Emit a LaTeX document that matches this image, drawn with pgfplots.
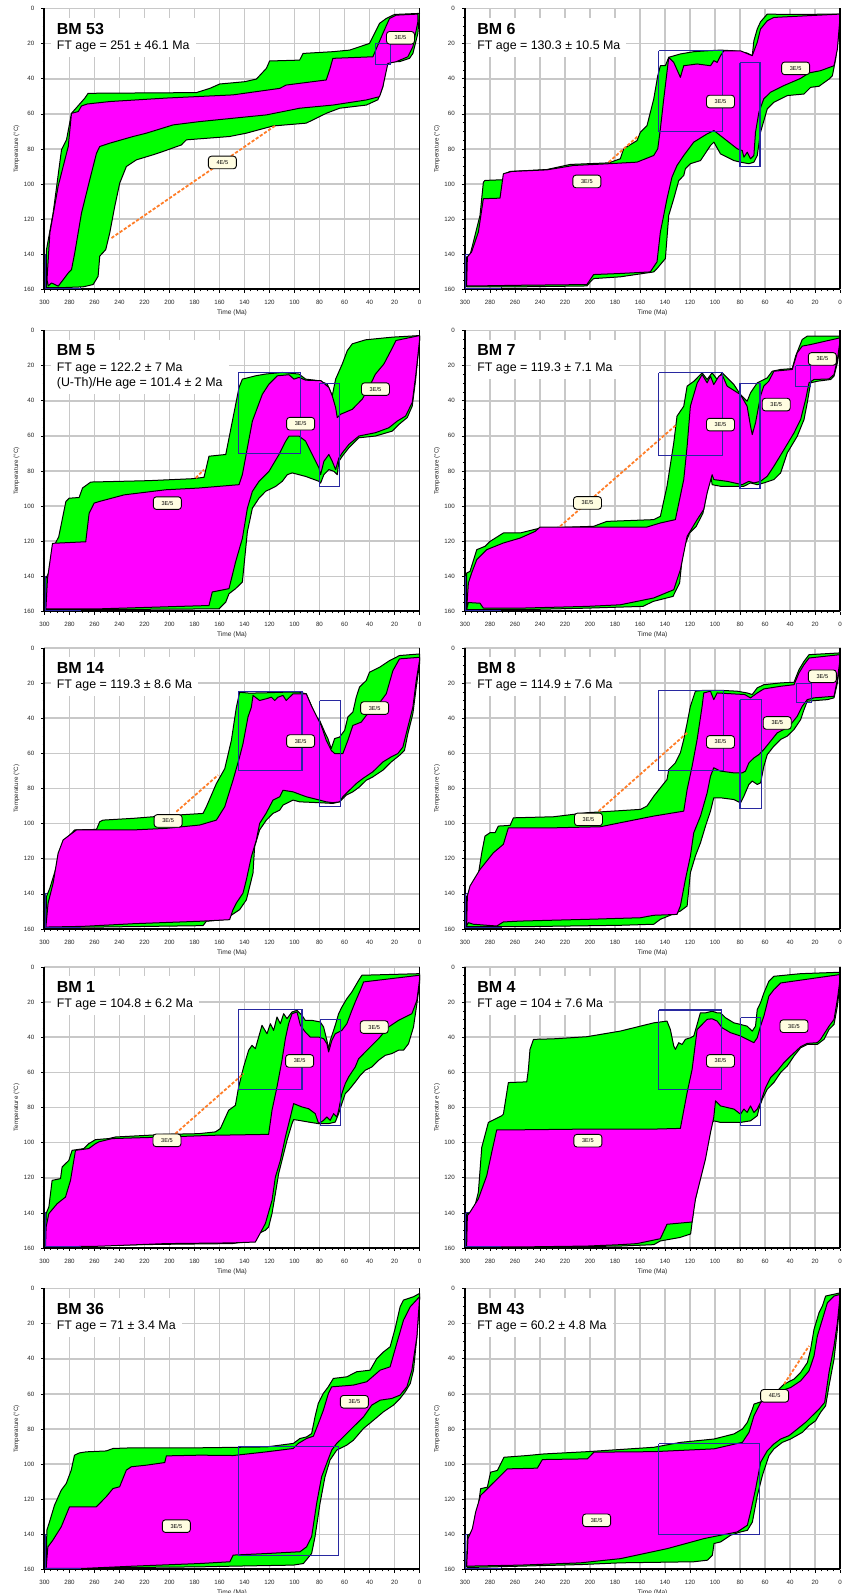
\documentclass[border=0pt]{standalone}
\usepackage{fontspec}
\setmainfont{Liberation Sans}
\usepackage{pgfplots}
\pgfplotsset{compat=1.18}

\definecolor{envgreen}{RGB}{0,255,0}
\definecolor{envmag}{RGB}{255,0,255}
\definecolor{boxblue}{RGB}{40,40,160}
\definecolor{pathorange}{RGB}{255,125,40}
\definecolor{gridgray}{RGB}{200,200,200}
\definecolor{tagfill}{RGB}{255,253,225}

\pgfplotsset{
  tt/.style={
    scale only axis, width=187.5pt, height=140.5pt, anchor=north west,
    xmin=0, xmax=300, ymin=0, ymax=160, x dir=reverse, y dir=reverse,
    xtick={0,20,...,300}, ytick={0,20,...,160},
    minor x tick num=3, minor y tick num=3,
    xtick pos=left, ytick pos=left,
    grid=major, major grid style={draw=gridgray, line width=0.8pt},
    axis line style={draw=gridgray, line width=0.7pt},
    tick align=outside, major tick length=1.6pt, minor tick length=0.9pt,
    every tick/.style={black, line width=0.3pt},
    ticklabel style={font=\fontsize{3.1}{3.5}\selectfont, text=black!85},
    xticklabel style={yshift=-0.4pt},
    /pgf/number format/assume math mode=true,
    /pgf/number format/1000 sep={},
    clip=false,
  },
  gr/.style={fill=envgreen, draw=black, line width=0.5pt, line join=round},
  mg/.style={fill=envmag, draw=black, line width=0.5pt, line join=round},
  bx/.style={draw=boxblue, line width=0.55pt},
  orl/.style={draw=pathorange, line width=0.9pt, dash pattern=on 1.6pt off 0.9pt},
}
\tikzset{lbl/.style={draw=black, line width=0.45pt, fill=tagfill, rounded corners=1.5pt,
  minimum width=14pt, minimum height=6.3pt, inner sep=0.4pt, font=\fontsize{2.8}{3.2}\selectfont}}

% black frame on the left, bottom and right sides of each panel
\newcommand{\frameit}{%
  \draw[black, line width=1pt] (axis cs:300,0) -- (axis cs:300,160) -- (axis cs:0,160);
  \draw[black, line width=0.7pt] (axis cs:0,160) -- (axis cs:0,0);}
% constraint box at the start of the model run (drawn under the envelopes)
\newcommand{\startbox}{\addplot[bx] coordinates {(300,140)(271,140)(271,160)(300,160)(300,140)};}
% its edges along the axes, visible just inside the frame
\newcommand{\startedge}{\addplot[bx] coordinates {(299.4,140)(299.4,159.4)(271,159.4)};}
% sample name, ages and axis titles of one panel (#1 left edge, #2 top edge)
\newcommand{\annot}[3]{%
  \node[anchor=north west, fill=white, inner xsep=3pt, inner ysep=2.5pt, align=left,
        font=\fontsize{6.2}{7.6}\selectfont] at ({#1+3pt},{#2-4.5pt}) {#3};
  \node[rotate=90, font=\fontsize{3.1}{3.5}\selectfont, text=black!85] at ({#1-14pt},{#2-70.25pt}) {Temperature (°C)};
  \node[font=\fontsize{3.3}{3.8}\selectfont, text=black!85] at ({#1+93.75pt},{#2-152.3pt}) {Time (Ma)};}
\newcommand{\bm}[1]{{\fontsize{8}{7.6}\selectfont\bfseries #1}}

\begin{document}
\begin{tikzpicture}
\path[use as bounding box] (0,0) rectangle (422.5pt,796.5pt);

%---------------- BM 53
\begin{axis}[tt, at={(22.25pt,792.25pt)}]
\startbox
\addplot[gr] coordinates {(298.4,158)(298.4,137.3)(293.1,116.5)(286.4,80.5)(282.4,74.8)(278.4,59.7)(267.8,51.1)(265.1,48.3)(178.5,47.9)(167.8,45.5)(159.8,43)(139.9,41.7)(130.5,40.2)(122.5,34.1)(119.9,29.9)(95.9,29.4)(93.2,25.6)(69.3,24.6)(55.9,23.7)(40,19.9)(32,8.5)(26.6,5.7)(20,3.4)(0,2.8)
(1.3,14.2)(5.3,25.6)(8,28.4)(16,30.3)(26.6,30.3)(29.3,44.5)(33.3,52)(42.6,55)(63.9,56.8)(74.6,59.7)(90.6,65.3)(117.2,66.9)(138.5,71)(151.9,72.9)(186.5,74.8)(190.5,77.7)(205.1,81.4)(213.1,83.3)(226.5,86.2)(234.5,90)(239.8,99.4)(243.8,112.7)(247.8,127.8)(251,137.3)(255.8,141)(257.1,152.5)(261.1,157.2)(269.1,158.5)(287.7,159)(298.4,159)(298.4,158)};
\addplot[mg] coordinates {(298,154.4)(295.7,127.8)(289,101)(281,78.6)(278.4,59.7)(273,58.7)(270.4,55.5)(265.9,54.4)(247.8,53)(202.5,51)(149.2,49.2)(111.9,45.5)(106.6,43.6)(74.6,40.7)(71.9,35)(69.3,28.4)(37.3,27.5)(29.3,14.2)(24,5.7)(18.6,3.8)(1.3,3.2)
(1.3,7.6)(5.3,21.8)(9.3,27.5)(18.6,30.3)(25.3,31.3)(29.3,44.5)(32,50.2)(42.6,52.1)(69.3,55)(95.9,56.8)(122.5,60.6)(149.2,62.5)(175.8,64.4)(197.1,66.3)(218.5,71)(229.1,72.9)(247.8,76.7)(255.8,78.6)(258.4,82.4)(263.8,97.5)(270.4,116.5)(275.8,139.2)(278.4,148.7)(281,150.6)(285,154.4)(289,158.1)(294.4,156.3)(297,158)(298,154.4)};
\addplot[orl] coordinates {(246.4,130.7)(114.5,66.3)};
\addplot[bx] coordinates {(35.4,20)(23.4,20)(23.4,31.8)(35.4,31.8)(35.4,20)};
\frameit
\startedge
\node[lbl] at (axis cs:157.7,87.7) {4E/5};
\node[lbl] at (axis cs:15.2,16.7) {3E/5};
\end{axis}
\annot{22.25pt}{792.25pt}{\bm{BM 53}\\FT age = 251 ± 46.1 Ma}

%---------------- BM 6
\begin{axis}[tt, at={(232.5pt,792.25pt)}]
\startbox
\addplot[gr] coordinates {(298.7,157.6)(298.7,141.5)(296,140.5)(292,129.2)(288,117.8)(285.3,98.9)(284,97.9)(269.3,97.5)(268,94.1)(263.9,92.8)(234.5,91.7)(215.8,88.8)(185,87.9)(175.8,85.6)(173.1,79.9)(162.4,75.2)(159.7,70.5)(154.4,66.7)(149,51.5)(145.8,38.3)(143.7,32.6)(139.7,32.6)(137,27.8)(127.7,25.9)(117,24.6)(106.3,24.1)(95.6,23.7)(84.9,24.1)(74.2,25.4)(70.2,26.9)(68.9,18.4)(66.2,11.7)(63.6,7.6)(58.2,3.2)(42.2,3.4)(0,3.2)
(0,8)(3.5,28.8)(6.1,38.3)(8.8,40.2)(16.8,44.3)(23.5,44.9)(28.8,48.7)(42.2,49.6)(52.9,53.4)(58.2,57.2)(63.6,70.5)(66.2,83.7)(68.9,87.5)(72.9,88.4)(79.6,87.5)(84.9,86.6)(95.6,82.8)(100.9,76.1)(103.6,78)(111.6,86.6)(119.7,88.4)(123.7,91.3)(125,95.1)(129,98)(133,108.3)(137,117.8)(139.7,142.4)(146.4,148.1)(149,150)(175.8,152.8)(197.1,153.8)(199.8,155.7)(202.5,158)(255.9,158.5)(282.6,158.5)(298.7,158.5)(298.7,157.6)};
\addplot[mg] coordinates {(298.7,157.6)(298.1,141.5)(294.7,138.6)(289.3,127.3)(285.3,108.3)(272,108)(269.3,94.1)(262.6,92.8)(234.5,91.9)(213.2,89.4)(185,88.4)(162.4,87.5)(149,83.7)(145.8,79.9)(143.7,68.6)(141,51.5)(137,27.8)(133,30.7)(127.7,39.2)(125,32.6)(114.3,31.6)(103.6,32.6)(100.9,29.7)(98.3,30.7)(95.6,26.9)(92.9,24.1)(79.6,24.1)(70.2,26.9)(66.2,19.3)(63.6,11.7)(58.2,7)(52.9,5.1)(0,3.2)
(0,5.1)(2.1,23.1)(4.8,32.6)(15.5,35.4)(24.8,36.7)(31.5,39.8)(44.9,43.9)(55.6,47.7)(61,51.5)(64.9,59.1)(67.6,70.5)(68.9,83.7)(71.6,85.6)(74.2,81.8)(76.9,84.7)(78.2,80.9)(82.2,79.9)(100.9,69.5)(106.3,71.4)(117,76.1)(125,83.7)(130.4,89.4)(134.4,96)(138.4,108.3)(143.7,127.3)(146.4,144.3)(151.8,150)(175.8,150.9)(197.1,151.5)(202.5,157.2)(255.9,157.6)(293.3,158)(298.7,158)(298.7,157.6)};
\addplot[orl] coordinates {(185,87.5)(161,72.3)};
\addplot[bx] coordinates {(145,24)(94,24)(94,70)(145,70)(145,24)};
\addplot[bx] coordinates {(80,31)(64,31)(64,90)(80,90)(80,31)};
\frameit
\startedge
\node[lbl] at (axis cs:202.5,98.5) {3E/5};
\node[lbl] at (axis cs:95.6,53) {3E/5};
\node[lbl] at (axis cs:35.5,34.1) {3E/5};
\end{axis}
\annot{232.5pt}{792.25pt}{\bm{BM 6}\\FT age = 130.3 ± 10.5 Ma}

%---------------- BM 5
\begin{axis}[tt, at={(22.25pt,631.25pt)}]
\startbox
\addplot[gr] coordinates {(298.9,158.5)(298.9,141.3)(296.3,137.5)(291.3,121.2)(288.6,117.4)(282.9,97.4)(280.3,95.5)(272.3,95.1)(269.6,89.7)(263,86.3)(216.3,85.5)(181.7,84.4)(172.4,83.6)(168.4,71.6)(155,70.6)(149.7,51.6)(144.4,32.5)(141.7,27.7)(131.1,25.8)(123.1,24.8)(109.8,23.9)(96.4,24.8)(91.1,27.7)(80.4,28.6)(73.8,30.5)(69.8,37.2)(67.1,27.7)(61.8,19.1)(57.8,11.5)(53.8,7.6)(43.1,5.3)(21.8,3.8)(0,2.9)
(0,5.7)(3.2,28.6)(5.8,43)(9.8,49.6)(16.5,53.5)(21.8,57.3)(35.2,60.1)(48.5,61.1)(56.5,66.8)(61.8,71.6)(64.5,74.5)(65.8,82.1)(68.5,80.2)(72.5,79.2)(76.5,82.1)(79.1,86.9)(80.4,85.9)(91.1,83.1)(101.8,81.1)(105.8,82.1)(109.8,85.9)(115.1,88.8)(123.1,91.6)(128.4,95.5)(133.7,101.2)(137.7,114.6)(141.7,143.2)(147.1,147)(152.4,149.9)(155,154.7)(160.4,158.5)(256.3,158.9)(298.9,158.9)(298.9,158.5)};
\addplot[mg] coordinates {(298.9,158.5)(297.6,141.3)(293.6,121.2)(267,120.3)(264.3,104.1)(260.3,98.3)(256.3,97.4)(236.3,93.6)(203,90.7)(176.4,89.7)(144.4,87.8)(141.7,82.1)(133.7,51.6)(125.7,36.3)(120.4,30.5)(113.7,25.8)(104.4,25.2)(100.4,27.7)(96.4,26.7)(91.1,28.3)(78.8,28.6)(72.5,32.5)(69.8,37.2)(67.1,43.9)(65.8,49.6)(63.1,47.7)(53.8,44.9)(45.8,39.1)(40.5,32.5)(35.2,24.8)(28.5,19.1)(22.9,11.5)(18.8,5.7)(0,2.9)
(0,5.7)(3.2,26.7)(5.8,41)(11.1,48.7)(17.8,51.6)(24.5,55.4)(35.2,58.2)(48.5,60.1)(56.5,64.9)(61.8,69.7)(64.5,72.6)(67.1,79.2)(69.8,74.5)(72.5,70.6)(76.5,74.5)(79.1,82.1)(80.4,78.3)(85.8,70.6)(91.1,63)(96.4,60.1)(104.4,60.1)(107,63)(112.4,70.6)(120.4,80.2)(128.4,85.9)(133.7,91.6)(137.7,101.2)(141.7,118.4)(147.1,131.7)(152.4,147)(165.8,148.9)(168.4,156.6)(256.3,158.5)(298.9,158.5)};
\addplot[orl] coordinates {(179,84)(172.4,79.2)};
\addplot[bx] coordinates {(145,24)(95,24)(95,70)(145,70)(145,24)};
\addplot[bx] coordinates {(80,30)(64,30)(64,89)(80,89)(80,30)};
\frameit
\startedge
\node[lbl] at (axis cs:201.7,98.3) {3E/5};
\node[lbl] at (axis cs:95.1,53.1) {3E/5};
\node[lbl] at (axis cs:35.2,33.4) {3E/5};
\end{axis}
\annot{22.25pt}{631.25pt}{\bm{BM 5}\\FT age = 122.2 ± 7 Ma\\(U-Th)/He age = 101.4 ± 2 Ma}

%---------------- BM 7
\begin{axis}[tt, at={(232.5pt,631.25pt)}]
\startbox
\addplot[gr] coordinates {(298.7,159)(298.7,138.1)(296,137.2)(290.6,124.8)(284,122.9)(280,120.1)(269.3,115.3)(255.9,115.3)(239.9,112.5)(197.1,111.5)(186.5,108.7)(149,107.7)(143.7,105.8)(138.4,88.7)(133,64)(130.4,48.8)(125,43.1)(122.3,31.7)(116.9,28.9)(110.3,24.1)(106.3,27.9)(102.3,24.1)(98.3,27.9)(94.3,24.1)(91.6,26)(84.9,30.8)(79.6,36.5)(74.3,40.3)(71.6,35.5)(66.2,29.8)(63.6,28.9)(58.2,27)(54.2,23.2)(47.5,22.2)(38.2,21.7)(35.5,14.6)(32.9,9.9)(30.2,5.1)(26.2,3.2)(0,3.2)
(0,8.9)(2.1,18.4)(4.8,26)(7.4,27.9)(18.1,28.9)(23.5,29.8)(26.2,41.2)(28.8,50.7)(34.2,60.2)(42.2,69.7)(47.5,81.1)(52.9,84.9)(60.9,86.8)(66.2,87.8)(71.6,86.8)(76.9,88.7)(79.6,88.7)(95.6,88.7)(102.3,87.8)(103.6,81.1)(109.6,103.9)(115,111.5)(120.3,115.3)(125.6,124.8)(128.3,143.8)(133.6,151.4)(149.6,154.3)(157.6,157.1)(202.5,158.1)(255.9,159)(298.7,159)};
\addplot[mg] coordinates {(298.7,159)(297.3,143.8)(294.7,138.1)(290.6,130.5)(282.6,124.8)(269.3,121)(255.9,118.2)(243.9,114.4)(239.9,111.9)(197.1,111.9)(154.4,111.9)(143.7,109.6)(131.7,107.7)(125,84.9)(122.3,65.9)(119.7,43.1)(114.3,30)(110.3,25.1)(106.3,29.8)(103.6,26)(101,30.8)(96.9,26)(94.3,25.1)(90.3,31.7)(79.6,36.5)(74.3,43.1)(71.6,54.5)(70.2,59.3)(67.6,52.6)(63.6,37.4)(61,31.7)(57,28.9)(52.9,23.2)(38.2,22.2)(34.2,12.7)(30.2,8.9)(23.5,8)(0,4.2)
(0,6.1)(2.1,16.5)(4.8,25.1)(8.8,27.6)(20.8,27.9)(24.8,29.8)(27.5,39.3)(31.5,50.7)(36.8,58.3)(44.8,67.8)(52.9,77.3)(58.2,83)(63.6,85.9)(68.9,86.8)(72.9,85.9)(78.2,87.8)(90.3,85.9)(100.9,84.9)(102.3,82.1)(106.3,92.5)(109,101.9)(114.3,107.7)(122.3,117.2)(127.7,136.2)(133,147.6)(149,152.3)(175.8,156.2)(202.5,157.1)(255.9,158.1)(285.3,158.1)(288,155.3)(297.3,154.9)(298.7,159)};
\addplot[orl] coordinates {(223.9,111.5)(131.7,54.2)};
\addplot[bx] coordinates {(145,24)(94,24)(94,71)(145,71)(145,24)};
\addplot[bx] coordinates {(80,30)(64,30)(64,90)(80,90)(80,30)};
\addplot[bx] coordinates {(35.5,20)(23.5,20)(23.5,32)(35.5,32)(35.5,20)};
\frameit
\startedge
\node[lbl] at (axis cs:202,98.2) {3E/5};
\node[lbl] at (axis cs:95.6,53.6) {3E/5};
\node[lbl] at (axis cs:51,42.2) {3E/5};
\node[lbl] at (axis cs:14.1,16.2) {3E/5};
\end{axis}
\annot{232.5pt}{631.25pt}{\bm{BM 7}\\FT age = 119.3 ± 7.1 Ma}

%---------------- BM 14
\begin{axis}[tt, at={(22.25pt,472.5pt)}]
\startbox
\addplot[gr] coordinates {(298.9,158.9)(298.4,141.5)(295.7,136.7)(290.4,124.4)(286.4,116.9)(283.7,109.3)(275.8,103.6)(258.4,103.3)(255.8,98.9)(253.1,98)(229.1,97)(202.5,95.5)(173.2,94.2)(170.5,90.4)(162.5,77.2)(155.8,68.7)(150.5,52.6)(146.5,33.7)(143.9,25.2)(135.9,25.7)(122.5,25.5)(109.2,25.2)(95.9,25.2)(90.6,26.1)(86.6,32.7)(82.6,39.3)(79.9,41.2)(75.9,47.8)(73.3,51.6)(70.6,57.3)(67.9,51.6)(63.9,50.7)(59.9,46.9)(57.3,39.3)(53.3,36.5)(50.6,28)(48,22.3)(42.6,18.5)(40,13.8)(32,11)(24,7.2)(16,4.3)(0,3.4)
(0,9.1)(2.6,22.3)(5.3,37.4)(9.3,48.8)(12,58.3)(16,61.1)(22.6,64.9)(29.3,69.6)(37.3,73.4)(42.6,75.3)(48,79.1)(53.3,81.9)(58.6,83.8)(63.9,87.6)(69.3,88.5)(79.9,88.1)(95.9,87.6)(101.2,86.6)(109.2,89.5)(111.8,92.3)(117.2,94.2)(122.5,98)(127.9,103.6)(131.9,113.1)(133.2,128.2)(138.5,143.4)(143.9,149)(151.9,152.8)(157.2,154.7)(170.5,155.6)(173.2,158.1)(255.8,158.9)(298.9,158.9)};
\addplot[mg] coordinates {(298.9,158.9)(297.1,145.2)(293.1,133.9)(289.1,116.9)(285.1,109.3)(274.4,103.6)(229.1,103.6)(202.5,102.7)(175.8,100.8)(162.5,98)(155.8,90.4)(149.2,75.3)(143.9,62)(141.2,54.5)(137.2,39.3)(134.5,33.7)(133.2,27)(127.9,29.9)(122.5,28.9)(118.5,28)(115.8,29.9)(113.2,28)(109.2,27)(106.6,29.9)(101.2,26.1)(90.6,26.1)(86.6,32.7)(81.3,40.3)(78.6,44.1)(74.6,52.6)(70.6,58.3)(67.9,60.1)(61.3,60.1)(57.3,52.6)(53.3,44.1)(46.6,42.2)(42.6,38.4)(34.6,33.7)(26.6,26.1)(21.3,12.9)(16,6.2)(0,5.3)
(0,7.2)(2.6,18.5)(5.3,33.7)(9.3,45)(13.3,56.4)(17.3,60.1)(22.6,62)(29.3,64.9)(37.3,70.5)(45.3,74.3)(50.6,77.2)(55.9,80.9)(61.3,84.7)(63.9,87.6)(69.3,88.1)(74.6,87.6)(79.9,86.6)(90.6,84.7)(101.2,81.9)(109.2,81)(111.8,84.7)(117.2,86.6)(122.8,94.2)(127.9,99.9)(130.5,109.3)(134.5,118.8)(138.5,132)(141.2,139.6)(146.5,145.2)(149.2,149)(151.9,154.7)(175.8,155.6)(229.1,157)(269.1,158.5)(298.9,158.9)};
\addplot[orl] coordinates {(194.5,93.2)(161.2,72.4)};
\addplot[bx] coordinates {(145,25)(94,25)(94,70)(145,70)(145,25)};
\addplot[bx] coordinates {(80,30)(63.5,30)(63.5,90)(80,90)(80,30)};
\frameit
\startedge
\node[lbl] at (axis cs:201.1,98.5) {3E/5};
\node[lbl] at (axis cs:95.1,53) {3E/5};
\node[lbl] at (axis cs:35.9,34.2) {3E/5};
\end{axis}
\annot{22.25pt}{472.5pt}{\bm{BM 14}\\FT age = 119.3 ± 8.6 Ma}

%---------------- BM 8
\begin{axis}[tt, at={(232.5pt,472.5pt)}]
\startbox
\addplot[gr] coordinates {(299.2,158.3)(298.7,141.2)(293.3,140.3)(290.6,134.6)(286.6,116.6)(284,107.1)(280,105.2)(276,105.2)(273.3,101.4)(263.9,101)(261.3,96.7)(229.2,96.1)(202.5,93.8)(159.7,91.9)(154.4,90)(149,84.4)(143.7,79.6)(138.4,74.9)(137,69.2)(131.7,65.4)(127.7,59.7)(125,52.1)(122.3,42.7)(119.7,33.2)(115.7,24.6)(109,24.1)(95.6,24.1)(82.3,24.6)(74.3,25.6)(70.2,26.5)(66.2,22.7)(60.9,20.9)(47.5,19.9)(36.8,19.5)(32.8,12.3)(28.8,7.6)(24.8,3.8)(0,2.8)
(0,8.5)(2.1,19.9)(4.8,28.4)(10.1,29.4)(26.2,30.3)(28.8,35.1)(31.5,40.8)(36.8,46.4)(42.2,50.2)(47.5,52.1)(52.9,55.9)(58.2,60.7)(60.9,67.3)(63.5,76.8)(66.2,77.7)(70.2,75.8)(72.9,77.7)(76.9,84.4)(79.6,88.2)(84.9,86.3)(95.6,85.3)(101,85.3)(103.6,92.9)(107.6,101.4)(111.6,110.9)(115.7,118.5)(119.7,128)(122.3,146.9)(127.7,149.8)(143.7,154.5)(149,157.3)(175.8,157.9)(255.9,158.7)(299.2,158.7)};
\addplot[mg] coordinates {(298.7,158.3)(298.1,141.2)(296,135.5)(288,126.1)(277.3,116.6)(269.3,111.8)(265.3,102.4)(229.2,102.4)(191.8,101.8)(175.8,99.5)(149,95.7)(125,92.9)(122.3,80.6)(118.3,67.3)(114.3,52.1)(110.3,33.2)(109,25.6)(103.6,24.6)(101,29.4)(98.3,25.6)(76.3,26.5)(71.6,28.4)(66.2,25.6)(60.9,23.3)(47.5,21.8)(36.8,20.9)(32.8,14.2)(28.8,9.5)(24.8,5.7)(0,3.8)
(0,6.6)(2.1,18)(4.8,27.5)(20.8,28.4)(26.2,29.4)(30.2,33.2)(34.2,38.9)(39.5,43.6)(44.9,46.4)(50.2,48.3)(55.6,53.1)(60.9,57.8)(64.9,60.7)(68.9,62.6)(72.9,65.4)(75.6,70.1)(78.2,71.1)(84.9,71.1)(95.6,70.1)(101,68.2)(103.6,73)(106.3,82.5)(111.6,95.7)(117,105.2)(119.7,118.5)(123.7,131.8)(127.7,146.9)(130.4,151.7)(149,152.2)(159.7,153.6)(202.5,154.5)(255.9,155.5)(269.3,156)(274.6,158.3)(293.3,157.3)(297.3,156.4)(298.7,158.3)};
\addplot[orl] coordinates {(193.1,92.9)(122.3,48.3)};
\addplot[bx] coordinates {(145,24)(93,24)(93,70)(145,70)(145,24)};
\addplot[bx] coordinates {(80,29.5)(63,29.5)(63,91.5)(80,91.5)(80,29.5)};
\addplot[bx] coordinates {(35,20)(22.7,20)(22.7,31)(35,31)(35,20)};
\frameit
\startedge
\node[lbl] at (axis cs:201.2,97.6) {3E/5};
\node[lbl] at (axis cs:95.6,53.5) {3E/5};
\node[lbl] at (axis cs:50.2,42.7) {3E/5};
\node[lbl] at (axis cs:14.1,16.1) {3E/5};
\end{axis}
\annot{232.5pt}{472.5pt}{\bm{BM 8}\\FT age = 114.9 ± 7.6 Ma}

%---------------- BM 1
\begin{axis}[tt, at={(22.25pt,313pt)}]
\startbox
\addplot[gr] coordinates {(299.2,159.4)(298.7,140.4)(296.5,136.6)(293.9,121.5)(287.2,120.5)(285.9,113.9)(280.5,110.1)(277.9,104.4)(268.6,103.4)(264.6,100.6)(259.2,98.3)(248.6,97.7)(243.2,96.8)(203.3,95.3)(176.6,94.9)(163.3,93.9)(159.3,92)(152.7,81.6)(147.3,78.8)(144.7,68.3)(140.7,56.9)(136.7,47.4)(134,44.6)(131.3,46.5)(126,33.2)(122,38)(119.3,32.3)(116.7,36.1)(114,28.5)(111.3,32.3)(108.7,26.6)(106,29.4)(102,25.6)(98,24.7)(94,27.5)(91.4,30.4)(86,30.4)(79.4,31.3)(76.7,34.2)(74.1,41.8)(72.7,46.5)(71.4,41.8)(67.4,33.2)(64.7,26.6)(62.1,22.8)(58.1,18)(54.1,14.2)(48.7,7.6)(46.1,4.7)(0,3.8)
(0,9.5)(2.1,20.9)(4.8,34.2)(8.8,43.7)(12.8,47.4)(16.8,47.4)(22.1,49.3)(27.4,50.3)(32.7,53.1)(38,56.9)(43.4,58.8)(47.4,61.7)(51.4,65.5)(56.7,70.2)(59.4,72.1)(62.1,77.8)(64.7,83.5)(67.4,88.3)(72.7,89.2)(80.7,89.2)(88.7,88.3)(96.7,87.3)(100.7,86.9)(102,89.2)(106,98.7)(110,110.1)(112.7,117.7)(115.3,129.1)(118,140.4)(120.7,148)(123.3,149.9)(128.7,151.8)(131.3,155.6)(150,157.5)(203.3,157.9)(256.6,158.5)(299.2,159.4)};
\addplot[mg] coordinates {(299.2,159.4)(298.7,148)(296.5,140.4)(289.9,134.8)(283.2,131)(279.2,121.5)(275.2,104.4)(264.6,103.4)(259.2,100.6)(256.6,99.6)(245.9,97.7)(203.3,96.8)(163.3,95.8)(120.7,95.3)(118,81.6)(114,68.3)(110,53.1)(107.3,40.8)(104.7,32.3)(102,26.6)(98,25.6)(95.3,33.2)(91.4,37)(87.4,39.9)(80.7,39.9)(76.7,40.8)(74.1,43.7)(72.7,48.4)(70.1,41.8)(67.4,38)(62.1,36.1)(58.1,32.3)(54.1,24.7)(51.4,19.9)(47.4,13.3)(44.7,8.5)(0,4.7)
(0,7.6)(2.1,19)(6.1,26.6)(16.8,30.4)(24.8,34.2)(32.7,40.8)(40.7,46.5)(48.7,52.2)(51.4,56.9)(56.7,62.6)(59.4,66.4)(62.1,72.1)(64.7,81.6)(66.1,85.4)(68.7,83.5)(71.4,87.3)(74.1,85.4)(76.7,87.3)(80.7,89.2)(83.4,83.5)(88.7,80.7)(94,79.7)(100.7,77.8)(103.3,85.4)(107.3,96.8)(111.3,110.1)(115.3,119.6)(118,132.9)(123.3,146.1)(131.3,156.6)(150,157.1)(203.3,157.5)(256.6,159)(299.2,159.4)};
\addplot[orl] coordinates {(195.3,94.9)(140.7,60.7)};
\addplot[bx] coordinates {(145,24)(94,24)(94,70)(145,70)(145,24)};
\addplot[bx] coordinates {(79.5,30)(63.5,30)(63.5,90.5)(79.5,90.5)(79.5,30)};
\frameit
\startedge
\node[lbl] at (axis cs:202,98.7) {3E/5};
\node[lbl] at (axis cs:95.9,53.5) {3E/5};
\node[lbl] at (axis cs:36.2,34.2) {3E/5};
\end{axis}
\annot{22.25pt}{313pt}{\bm{BM 1}\\FT age = 104.8 ± 6.2 Ma}

%---------------- BM 4
\begin{axis}[tt, at={(232.5pt,313pt)}]
\startbox
\addplot[gr] coordinates {(299.2,159.4)(298.7,140.5)(293.3,139.6)(289.3,128.2)(286.6,102.7)(281.3,88.5)(270.6,84.7)(269.3,83.8)(265.3,65.8)(250.6,65.4)(249.3,58.3)(248,46.9)(245.2,41.2)(229.2,40.9)(202.5,39.7)(175.8,36.5)(149,31.8)(138.4,30.8)(135.7,35.6)(133,45)(131.7,46.9)(129,43.1)(126.3,44.1)(123.7,41.2)(119.7,40.3)(117,39.3)(114.3,32.7)(111.7,26.1)(107.6,26.1)(102.3,25.2)(98.3,26.1)(95.6,26.1)(91.6,28.9)(84.9,31.8)(79.6,32.7)(74.3,33.7)(70.2,36.5)(67.6,33.7)(66.2,24.2)(63.6,20.4)(60.9,14.8)(56.9,8.1)(52.9,5.3)(31.5,3.8)(0,3)
(0,9.1)(2.1,22.3)(4.8,32.7)(8.8,35.6)(12.8,41.2)(18.2,44.1)(26.2,44.1)(31.5,46)(36.8,50.7)(42.2,56.4)(47.5,60.1)(52.9,65.8)(58.2,69.6)(62.2,75.3)(64.9,80.9)(66.2,84.7)(71.6,87.6)(79.6,88.5)(95.6,88.5)(101,87.6)(102.3,88.5)(104.9,98)(108.9,109.3)(111.6,116.9)(114.3,128.2)(117,135.8)(118.3,145.2)(119.5,152)(128,154)(143.7,156)(149,158.1)(175.8,158.9)(229.2,159.4)(299.2,159.4)};
\addplot[mg] coordinates {(298.7,159.4)(298.1,141.5)(296,139.6)(289.3,132)(282.6,118.8)(278.6,105.5)(274.6,92.7)(255.9,92.7)(202.5,92.3)(149,92.3)(127.7,91.9)(122.3,71.5)(118.3,58.3)(114.3,35.6)(110.3,32.7)(106.3,29.8)(102.3,29.5)(98.3,30.8)(94.3,34.6)(87.6,37.4)(79.6,39.3)(74.3,41.2)(68.9,43.1)(66.2,40.3)(63.6,33.7)(60.9,28)(56.9,16.6)(52.9,12.9)(47.5,9.1)(0,4.3)
(0,7.2)(2.1,18.5)(4.8,29.9)(8.8,33.7)(15.5,41.2)(18.2,43.1)(26.2,43.5)(31.5,45.4)(39.5,50.7)(44.9,54.5)(50.2,59.2)(55.6,63)(59.6,68.7)(63.6,77.2)(66.2,80.9)(68.9,82.8)(71.6,79.1)(74.3,82.8)(76.9,80.9)(79.6,83.8)(84.9,80.9)(95.6,79.1)(99.6,76.2)(101,85.7)(103.6,94.2)(107.6,109.3)(111.6,120.7)(115.6,132)(118.3,145.2)(138.4,146.5)(143.7,154.7)(162.4,157.5)(175.8,158.1)(202.5,158.9)(255.9,159.4)(298.7,159.4)};
\addplot[bx] coordinates {(145,24.5)(94.5,24.5)(94.5,69.5)(145,69.5)(145,24.5)};
\addplot[bx] coordinates {(79.5,29)(63.5,29)(63.5,90.5)(79.5,90.5)(79.5,29)};
\frameit
\startedge
\node[lbl] at (axis cs:201.7,98.9) {3E/5};
\node[lbl] at (axis cs:95.6,53.5) {3E/5};
\node[lbl] at (axis cs:36.8,33.7) {3E/5};
\end{axis}
\annot{232.5pt}{313pt}{\bm{BM 4}\\FT age = 104 ± 7.6 Ma}

%---------------- BM 36
\begin{axis}[tt, at={(22.25pt,152.25pt)}]
\startbox
\addplot[gr] coordinates {(298.7,159.4)(298.1,137.6)(296,132.9)(292,123.4)(286.6,114.8)(282.6,111)(278.6,103.4)(276,94.9)(272,93.6)(266.6,93)(250.6,92.5)(245.2,91.1)(229.2,90.7)(175.8,90.7)(122.3,90.2)(100.9,88.2)(95.6,85.4)(90.3,84.5)(86.3,82.6)(83.6,73.1)(81,65.5)(77,59.8)(73,56)(68.9,51.2)(58.2,50.3)(50.2,47.4)(39.5,46.5)(34.2,39.9)(28.8,36.1)(23.5,33.2)(19.5,22.8)(15.5,10.4)(12.8,6.6)(4.8,4.7)(0,2.8)
(0,6.6)(2.1,27.5)(4.8,46.5)(7.4,54.1)(11.4,58.8)(15.5,62.6)(20.8,66.4)(28.8,70.2)(36.8,75)(44.8,79.7)(52.9,86.4)(58.2,89.2)(66.2,92)(71.6,97.7)(75.6,107.2)(79.6,122.4)(83.6,141.4)(86.3,150.9)(92.9,156.6)(100.9,157.5)(149,158.1)(175.8,158.5)(255.9,159)(298.7,159.4)};
\addplot[mg] coordinates {(298.7,159.4)(297.3,147.1)(293.3,143.3)(286.6,135.7)(280,124.3)(258.6,124.3)(250.6,118.6)(245.2,113.9)(239.9,112.9)(234.5,103.4)(230.5,101.5)(218.5,100.6)(203.8,99.1)(202.5,95.3)(175.8,94.9)(149,95.1)(122.3,93)(101,91.1)(96.9,88.2)(90.3,85.4)(84.9,84.1)(80.9,76.9)(76.9,69.3)(72.9,59.8)(70.2,56)(52.9,55)(42.2,53.1)(31.5,46.5)(23.5,44.6)(18.2,31.3)(12.8,18)(7.4,10.4)(0,4.7)
(0,6)(2.1,27.5)(6.1,46.5)(10.1,56)(15.5,60.7)(22.1,62.6)(31.5,63.6)(38.2,66.4)(44.8,73.1)(52.9,78.8)(60.9,84.5)(66.2,88.2)(70.2,92)(74.3,99.6)(78.3,107.2)(82.3,122.4)(86.3,141.4)(90.3,147.1)(95.6,149.9)(122.3,150.9)(149,151.8)(151.7,155.6)(175.8,156.6)(229.2,158.1)(269.3,159.4)(298.7,159.4)};
\addplot[bx] coordinates {(145,90)(65,90)(65,152)(145,152)(145,90)};
\frameit
\startedge
\node[lbl] at (axis cs:194.5,135.3) {3E/5};
\node[lbl] at (axis cs:52.1,64.5) {3E/5};
\end{axis}
\annot{22.25pt}{152.25pt}{\bm{BM 36}\\FT age = 71 ± 3.4 Ma}

%---------------- BM 43
\begin{axis}[tt, at={(232.5pt,152.25pt)}]
\startbox
\addplot[gr] coordinates {(298.7,158.5)(298.1,140.5)(295.5,139.6)(291.5,134.8)(287.5,114)(282.1,113.1)(279.5,104.6)(274.1,103.6)(268.8,96.1)(250.1,95.1)(236.8,94.2)(202.1,92.9)(148.8,90.4)(127.5,87.6)(100.8,85.7)(84.8,82.8)(78.1,80)(74.1,76.2)(70.1,68.7)(68.8,65.8)(60.8,63.9)(52.8,60.1)(44.8,54.5)(36.8,51.6)(31.5,47.8)(26.1,42.2)(23.5,34.6)(20.8,23.3)(16.8,13.8)(14.1,10)(11.5,4.3)(0,2.5)
(0,6.2)(2.1,23.3)(4.8,40.3)(8.8,55.4)(11.5,66.8)(15.5,70.5)(19.5,75.3)(24.8,78.1)(30.1,81.9)(39.5,85.7)(46.1,87.6)(52.8,91.3)(56.8,95.1)(59.5,100.8)(62.1,106.5)(66.1,117.8)(70.1,133)(74.1,137.7)(79.5,138.6)(87.5,140.5)(95.5,144.3)(100.8,145.2)(102.1,151.9)(106.1,154.7)(116.8,155.6)(175.5,156.2)(207.5,157.2)(255.5,158.1)(298.7,158.9)};
\addplot[mg] coordinates {(298.7,158.5)(297.6,142.4)(294.1,136.7)(291.5,127.3)(287.5,117.8)(282.1,114)(276.8,110.3)(266.1,102.7)(242.1,102.3)(238.1,97.4)(202.1,97)(196.8,93.2)(148.8,92.9)(100.8,91.3)(78.1,87.6)(72.8,81.9)(68.8,72.4)(63.5,64.9)(55.5,61.1)(47.5,58.3)(39.5,56.4)(31.5,52.6)(24.8,46.9)(20.8,38.4)(18.1,27)(14.1,17.6)(10.1,8.1)(4.8,4.3)(0,3.4)
(0,4.3)(2.1,19.5)(4.8,32.7)(8.8,47.8)(12.3,64.9)(16.8,68.7)(22.1,72.4)(27.5,76.2)(34.1,80)(40.8,83.8)(47.5,85.7)(52.8,88.5)(58.1,92.3)(63.5,98.9)(67.5,114)(71.5,127.1)(74.1,134.8)(82.1,138.6)(95.5,140.5)(108.8,142.4)(138.1,148.1)(175.5,153.8)(207.5,156.2)(255.5,157.5)(298.7,158.1)};
\addplot[orl] coordinates {(44.8,54.5)(24.8,32.7)};
\addplot[bx] coordinates {(145,88.5)(64.5,88.5)(64.5,140)(145,140)(145,88.5)};
\frameit
\startedge
\node[lbl] at (axis cs:194.7,132) {3E/5};
\node[lbl] at (axis cs:52.3,61.1) {4E/5};
\end{axis}
\annot{232.5pt}{152.25pt}{\bm{BM 43}\\FT age = 60.2 ± 4.8 Ma}

\end{tikzpicture}
\end{document}
